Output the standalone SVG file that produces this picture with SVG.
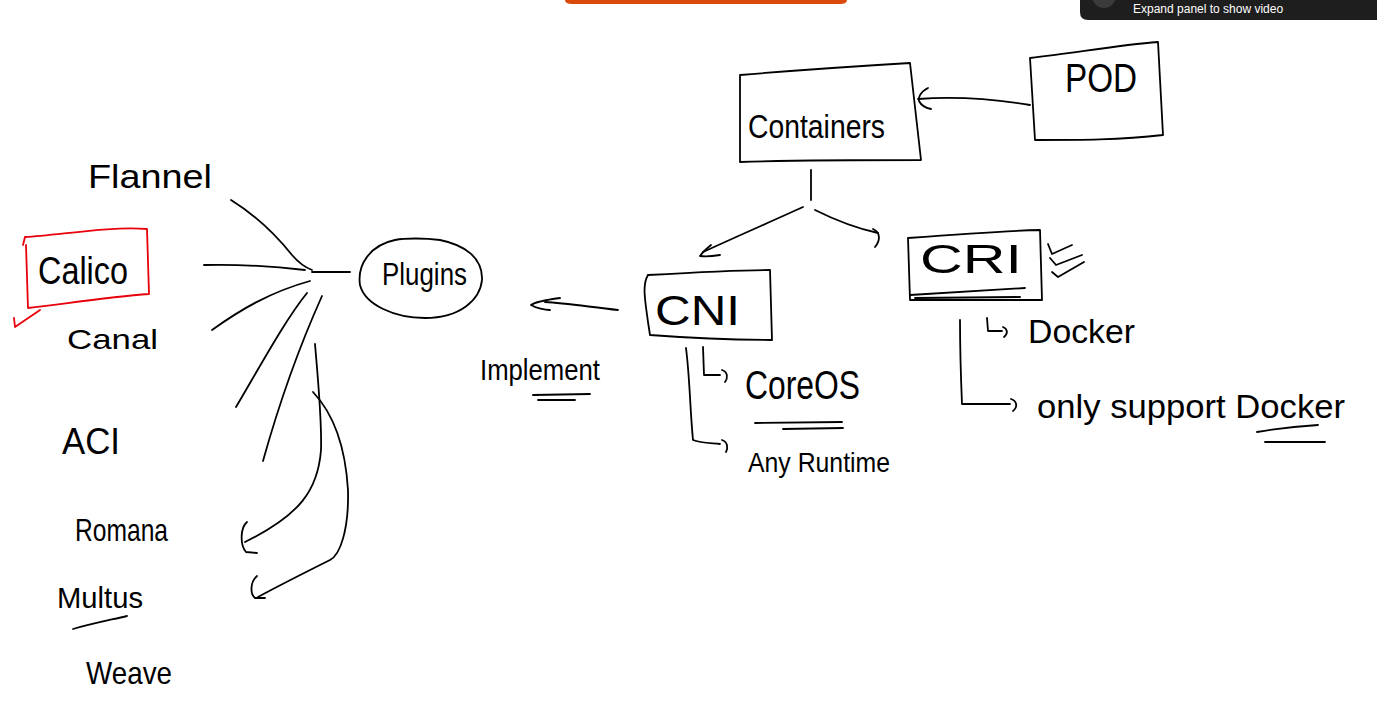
<svg xmlns="http://www.w3.org/2000/svg" width="1377" height="720" viewBox="0 0 1377 720">
<style>
.s{fill:none;stroke:#000;stroke-width:1.8;stroke-linecap:round;stroke-linejoin:round}
.r{fill:none;stroke:#e8000b;stroke-width:1.8;stroke-linecap:round;stroke-linejoin:round}
.t{font-family:"Liberation Sans",Arial,sans-serif;fill:#000}
</style>
<rect width="1377" height="720" fill="#fff"/>
<g id="ui">
<path d="M565,0 H847 V0 Q847,4 840,4 H572 Q565,4 565,0 Z" fill="#d94a0b"/>
<path d="M1080,0 H1377 V20 H1088 Q1080,20 1080,12 Z" fill="#1e1e1e"/>
<circle cx="1104" cy="-4" r="12" fill="#3a3a3a"/>
<text x="1133" y="13" class="t" font-size="12" style="fill:#fff">Expand panel to show video</text>
</g>
<g id="connectors">
<path class="s" d="M231,200 C260,218 280,240 292,255 C298,262 304,267 312,270"/>
<path class="s" d="M204,265 C250,264 280,267 305,270"/>
<path class="s" d="M312,272 L350,272"/>
<path class="s" d="M212,330 C240,310 270,292 310,281"/>
<path class="s" d="M307,293 C285,320 258,370 236,407"/>
<path class="s" d="M322,296 C300,345 280,400 263,461"/>
<path class="s" d="M315,344 C318,380 322,420 321,450 C318,490 300,515 245,542"/>
<path class="s" d="M247,522 C240,528 240,545 246,552 L257,553"/>
<path class="s" d="M313,392 C330,410 345,440 348,490 C349,530 340,555 330,560 C300,575 280,585 258,597"/>
<path class="s" d="M257,576 C250,582 250,594 255,598 L265,598"/>
<path class="s" d="M618,310 C590,307 565,303 545,302"/>
<path class="s" d="M560,298 C545,300 535,302 531,305 C536,308 545,310 550,310"/>
<path class="s" d="M686,348 C690,380 690,410 693,440 C700,443 710,443 720,444"/>
<path class="s" d="M722,440 C728,442 728,448 726,452"/>
<path class="s" d="M703,347 L704,375 L720,375"/>
<path class="s" d="M722,370 C728,372 728,378 725,382"/>
<path class="s" d="M1030,105 C1000,100 960,96 918,99"/>
<path class="s" d="M928,88 C920,92 918,98 919,101 C921,105 926,108 931,109"/>
<path class="s" d="M811,170 L811,200"/>
<path class="s" d="M803,207 C770,222 740,235 703,252"/>
<path class="s" d="M711,245 C705,250 702,253 700,256 C706,257 714,256 720,255"/>
<path class="s" d="M815,210 C835,220 855,228 878,233"/>
<path class="s" d="M873,229 C880,232 881,240 875,247"/>
<path class="s" d="M987,318 L988,331 L1002,331"/>
<path class="s" d="M1003,327 C1008,329 1008,334 1004,337"/>
<path class="s" d="M960,320 C960,350 961,380 962,404 L1010,404"/>
<path class="s" d="M1011,399 C1017,401 1018,407 1013,411"/>
</g>
<g id="Flannel"><text class="t" x="88" y="188" font-size="34" textLength="124" lengthAdjust="spacingAndGlyphs">Flannel</text></g>
<g id="Calico">
<path class="r" d="M23,245 L25,237 C60,235 110,226 147,229 L149,294 C110,297 70,303 28,308 L26,245"/>
<path class="r" d="M14,318 L15,327 L40,310"/>
<text class="t" x="38" y="284" font-size="38" textLength="90" lengthAdjust="spacingAndGlyphs">Calico</text>
</g>
<g id="Canal"><text class="t" x="67" y="349" font-size="28" textLength="91" lengthAdjust="spacingAndGlyphs">Canal</text></g>
<g id="ACI"><text class="t" x="62" y="454" font-size="36" textLength="58" lengthAdjust="spacingAndGlyphs">ACI</text></g>
<g id="Romana"><text class="t" x="75" y="541" font-size="32" textLength="93" lengthAdjust="spacingAndGlyphs">Romana</text></g>
<g id="Multus">
<text class="t" x="57" y="608" font-size="30" textLength="86" lengthAdjust="spacingAndGlyphs">Multus</text>
<path class="s" d="M73,629 C90,624 110,620 127,616"/>
</g>
<g id="Weave"><text class="t" x="86" y="684" font-size="32" textLength="86" lengthAdjust="spacingAndGlyphs">Weave</text></g>
<g id="Plugins">
<path class="s" d="M395,240 C370,245 357,265 360,285 C365,305 395,318 425,318 C460,318 480,300 482,280 C483,258 465,245 440,240 C425,238 405,238 395,240"/>
<text class="t" x="382" y="285" font-size="32" textLength="85" lengthAdjust="spacingAndGlyphs">Plugins</text>
</g>
<g id="Implement">
<text class="t" x="480" y="380" font-size="30" textLength="120" lengthAdjust="spacingAndGlyphs">Implement</text>
<path class="s" d="M533,395 L590,394"/>
<path class="s" d="M538,400 L575,400"/>
</g>
<g id="CNI">
<path class="s" d="M648,275 C700,272 740,270 770,270 L772,340 C740,340 690,338 650,335 L648,322 C645,300 642,285 648,275"/>
<text class="t" x="655" y="325" font-size="42" textLength="85" lengthAdjust="spacingAndGlyphs">CNI</text>
</g>
<g id="CoreOS">
<text class="t" x="745" y="399" font-size="40" textLength="115" lengthAdjust="spacingAndGlyphs">CoreOS</text>
<path class="s" d="M755,423 L842,422"/>
<path class="s" d="M783,429 L843,428"/>
</g>
<g id="AnyRuntime"><text class="t" x="748" y="472" font-size="28" textLength="142" lengthAdjust="spacingAndGlyphs">Any Runtime</text></g>
<g id="Containers">
<path class="s" d="M740,75 C800,70 860,66 910,63 L921,160 C860,160 800,160 740,162 L740,75"/>
<text class="t" x="748" y="138" font-size="34" textLength="137" lengthAdjust="spacingAndGlyphs">Containers</text>
</g>
<g id="POD">
<path class="s" d="M1030,58 C1080,52 1120,45 1158,42 L1163,135 C1120,140 1080,140 1035,140 L1030,58"/>
<text class="t" x="1065" y="92" font-size="40" textLength="72" lengthAdjust="spacingAndGlyphs">POD</text>
</g>
<g id="CRI">
<path class="s" d="M908,238 C960,234 1000,231 1040,230 L1042,300 C1000,300 950,300 910,300 L908,238"/>
<path class="s" d="M910,295 L1025,288"/>
<path class="s" d="M915,298 L1020,297"/>
<text class="t" x="920" y="273" font-size="40" textLength="102" lengthAdjust="spacingAndGlyphs">CRI</text>
<path class="s" d="M1048,244 L1052,254 L1072,245"/>
<path class="s" d="M1050,258 L1056,265 L1082,255"/>
<path class="s" d="M1052,272 L1058,277 L1084,262"/>
</g>
<g id="Docker"><text class="t" x="1028" y="343" font-size="34" textLength="107" lengthAdjust="spacingAndGlyphs">Docker</text></g>
<g id="OnlySupportDocker">
<text class="t" x="1037" y="418" font-size="34" textLength="308" lengthAdjust="spacingAndGlyphs">only support Docker</text>
<path class="s" d="M1257,432 C1280,428 1300,426 1318,425"/>
<path class="s" d="M1265,442 L1325,442"/>
</g>
</svg>
